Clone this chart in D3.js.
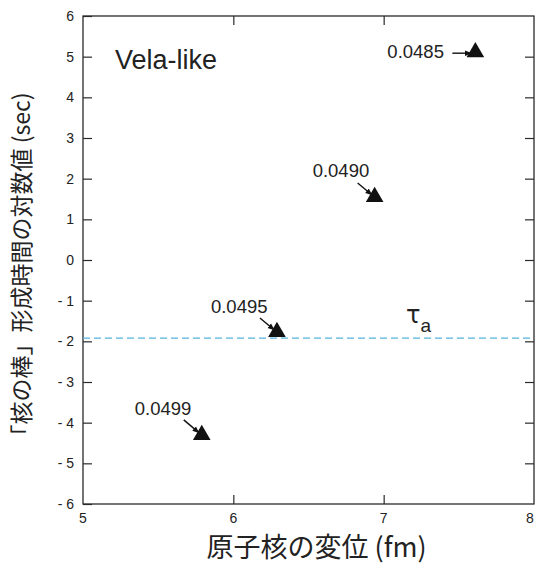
<!DOCTYPE html>
<html>
<head>
<meta charset="utf-8">
<script src="https://cdn.jsdelivr.net/npm/d3@7"></script>
<style>
  body { margin: 0; background: #fff; }
  text { font-family: "Liberation Sans", Arial, sans-serif; fill: #222; }
  .cjk { font-family: "Noto Sans CJK JP", sans-serif; }
</style>
</head>
<body>
<div id="chart"></div>
<script>
// data
const labels = ["0.0485", "0.0490", "0.0495", "0.0499"];
const xValues = [7.61, 6.94, 6.29, 5.79];
const yValues = [5.11, 1.55, -1.77, -4.30];
const tauA = -1.92;
const xTicks = [5, 6, 7, 8];
const yTicks = [6, 5, 4, 3, 2, 1, 0, -1, -2, -3, -4, -5, -6];

// where each label sits relative to its point (px)
const labelDx = [-88, -62, -66, -67];
const labelDy = [6, -20, -19, -20];
// arrow start / end relative to point (px)
const arrowFrom = [[-23, 1], [-17, -14], [-17, -14], [-18, -15]];
const arrowTo = [[-7, 1], [-5, -4], [-5, -4], [-5, -4]];

const width = 536, height = 566;
const margin = {left: 83, right: 2, top: 16, bottom: 62};

const svg = d3.select("#chart").append("svg")
    .attr("width", width)
    .attr("height", height);

const x = d3.scaleLinear().domain([5, 8]).range([margin.left, width - margin.right]);
const y = d3.scaleLinear().domain([-6, 6]).range([height - margin.bottom, margin.top]);

const tick = 9;
const ink = "#2a2a2a";

// frame
svg.append("rect")
    .attr("x", x(5)).attr("y", y(6))
    .attr("width", x(8) - x(5)).attr("height", y(-6) - y(6))
    .attr("fill", "none").attr("stroke", ink).attr("stroke-width", 1.3);

// axes with inward ticks
const axLeft = svg.append("g").attr("transform", `translate(${x(5)},0)`)
    .call(d3.axisRight(y).tickValues(yTicks).tickSize(tick).tickFormat(""));
const axRight = svg.append("g").attr("transform", `translate(${x(8)},0)`)
    .call(d3.axisLeft(y).tickValues(yTicks.filter(d => d > -6 && d < 6)).tickSize(tick).tickFormat(""));
const axBottom = svg.append("g").attr("transform", `translate(0,${y(-6)})`)
    .call(d3.axisTop(x).tickValues([6, 7]).tickSize(tick).tickFormat(""));
const axTop = svg.append("g").attr("transform", `translate(0,${y(6)})`)
    .call(d3.axisBottom(x).tickValues([6, 7]).tickSize(tick).tickFormat(""));
[axLeft, axRight, axBottom, axTop].forEach(g => {
    g.select(".domain").remove();
    g.selectAll("line").attr("stroke", ink).attr("stroke-width", 1.2);
});

// tick labels
svg.append("g").selectAll("text")
    .data(yTicks)
    .enter().append("text")
    .attr("x", x(5) - 9)
    .attr("y", d => y(d))
    .attr("dy", "0.36em")
    .attr("text-anchor", "end")
    .attr("font-size", 14)
    .text(d => d < 0 ? "- " + Math.abs(d) : d);

svg.append("g").selectAll("text")
    .data(xTicks)
    .enter().append("text")
    .attr("x", d => Math.min(x(d), width - 6))
    .attr("y", y(-6) + 19)
    .attr("text-anchor", "middle")
    .attr("font-size", 14)
    .text(d => d);

// tau_a dashed line
svg.append("line")
    .attr("x1", x(5)).attr("x2", x(8))
    .attr("y1", y(tauA)).attr("y2", y(tauA))
    .attr("stroke", "#55b4dc").attr("stroke-width", 1.4)
    .attr("stroke-dasharray", "7,4");

const tau = svg.append("text")
    .attr("x", 406).attr("y", y(tauA) - 15)
    .attr("font-size", 24);
tau.append("tspan").attr("font-family", "DejaVu Sans").text("τ");
tau.append("tspan").attr("dy", 9).attr("font-size", 19).text("a");

// arrow head
svg.append("defs").append("marker")
    .attr("id", "head")
    .attr("viewBox", "0 0 10 10")
    .attr("refX", 5).attr("refY", 5)
    .attr("markerWidth", 5).attr("markerHeight", 5)
    .attr("orient", "auto")
    .append("path").attr("d", "M0,1 L10,5 L0,9 Z").attr("fill", "#111");

const idx = d3.range(labels.length);

svg.append("g").selectAll("line")
    .data(idx)
    .enter().append("line")
    .attr("x1", i => x(xValues[i]) + arrowFrom[i][0])
    .attr("y1", i => y(yValues[i]) + arrowFrom[i][1])
    .attr("x2", i => x(xValues[i]) + arrowTo[i][0])
    .attr("y2", i => y(yValues[i]) + arrowTo[i][1])
    .attr("stroke", "#111").attr("stroke-width", 1.4)
    .attr("marker-end", "url(#head)");

// triangles
svg.append("g").selectAll("path")
    .data(idx)
    .enter().append("path")
    .attr("transform", i => `translate(${x(xValues[i])},${y(yValues[i])})`)
    .attr("d", d3.symbol().type(d3.symbolTriangle).size(135))
    .attr("fill", "#111");

// point labels
svg.append("g").selectAll("text")
    .data(idx)
    .enter().append("text")
    .attr("x", i => x(xValues[i]) + labelDx[i])
    .attr("y", i => y(yValues[i]) + labelDy[i])
    .attr("font-size", 18.5)
    .text(i => labels[i]);

// panel title
svg.append("text")
    .attr("x", 115).attr("y", 69)
    .attr("font-size", 27)
    .text("Vela-like");

// axis titles
svg.append("text")
    .attr("class", "cjk")
    .attr("x", (x(5) + x(8)) / 2 + 8)
    .attr("y", 557)
    .attr("text-anchor", "middle")
    .attr("font-size", 27)
    .text("原子核の変位 (fm)");

svg.append("text")
    .attr("class", "cjk")
    .attr("transform", `translate(30,${(y(6) + y(-6)) / 2 + 10}) rotate(-90)`)
    .attr("text-anchor", "middle")
    .attr("font-size", 23)
    .text("「核の棒」形成時間の対数値 (sec)");
</script>
</body>
</html>
